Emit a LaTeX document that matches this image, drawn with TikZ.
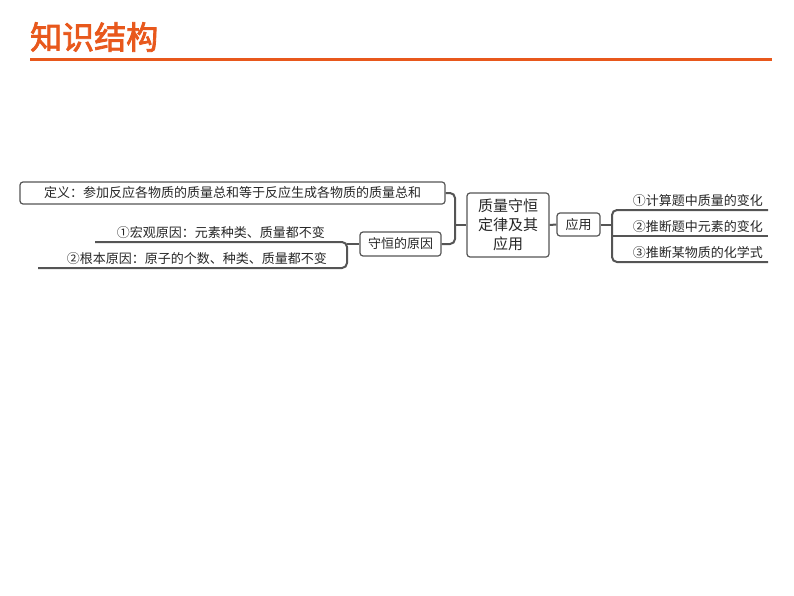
\documentclass[tikz,border=0pt]{standalone}
\usepackage{fontspec}
\newfontfamily\cjk{Noto Sans CJK SC}
\newfontfamily\cjkb[FakeBold=2.5]{Noto Sans CJK SC}
\definecolor{org}{HTML}{E8581C}
\definecolor{ln}{HTML}{555555}
\begin{document}
\begin{tikzpicture}[x=1pt,y=-1pt,
  bx/.style={draw=ln,line width=1.2pt,rounded corners=3pt,inner sep=2pt,font=\cjk\fontsize{13}{15}\selectfont,text=black!85},
  conn/.style={draw=ln,line width=2pt,rounded corners=5pt},
  lbl/.style={font=\cjk\fontsize{13}{15}\selectfont,text=black!85,inner sep=1pt,anchor=south east}]
\useasboundingbox (0,0) rectangle (794,596);
\node[font=\cjkb\fontsize{32}{34}\selectfont,text=org,anchor=west,inner sep=0] (title) at (30,37) {知识结构};
\draw[org,line width=3pt] (30,60) -- (772,60);
% nodes
\node[bx,minimum width=425pt,minimum height=22pt] (def) at (232.5,193) {定义：参加反应各物质的质量总和等于反应生成各物质的质量总和};
\node[bx,minimum width=82pt,minimum height=64pt,align=center,font=\cjk\fontsize{15}{19}\selectfont] (c) at (508,225) {质量守恒\\定律及其\\应用};
\node[bx,minimum width=81pt,minimum height=24pt] (why) at (400.5,244) {守恒的原因};
\node[bx,minimum width=43pt,minimum height=23pt] (app) at (578.5,224.5) {应用};
% left bracket
\coordinate (lb) at (455,225);
\draw[conn] (def.east) -- (455,193) -- (455,244) -- (why.east);
\draw[conn] (c.west) -- (lb);
% reasons
\coordinate (r1) at (95,242);
\coordinate (r2) at (38,268);
\draw[conn] (r1) -- (347,242) -- (347,268) -- (r2);
\draw[conn] (347,244) -- (why.west);
\node[lbl] (t1) at (326,240) {①宏观原因：元素种类、质量都不变};
\node[lbl] (t2) at (328,266) {②根本原因：原子的个数、种类、质量都不变};
% right
\draw[conn] (c.east) -- (app.west);
\coordinate (a1) at (768,210);
\coordinate (a2) at (768,236);
\coordinate (a3) at (768,262);
\draw[conn] (a1) -- (612,210) -- (612,262) -- (a3);
\draw[conn] (612,236) -- (a2);
\draw[conn] (app.east) -- (612,224.5);
\node[lbl] (u1) at (764,208) {①计算题中质量的变化};
\node[lbl] (u2) at (764,234) {②推断题中元素的变化};
\node[lbl] (u3) at (764,260) {③推断某物质的化学式};
\end{tikzpicture}
\end{document}
